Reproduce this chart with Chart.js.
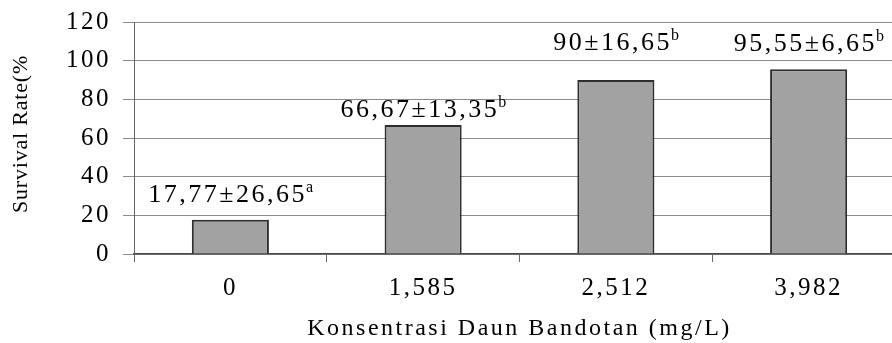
<!DOCTYPE html>
<html>
<head>
<meta charset="utf-8">
<script src="https://cdn.jsdelivr.net/npm/chart.js@4.4.1/dist/chart.umd.min.js"></script>
<style>
  html, body { margin: 0; padding: 0; background: #fff; overflow: hidden; }
  #wrap { width: 906px; height: 343px; }
</style>
</head>
<body>
<div id="wrap"><canvas id="c" width="906" height="343"></canvas></div>
<script>
// Concentrations of bandotan leaf extract (mg/L)
const categories = ['0', '1,585', '2,512', '3,982'];
// Mean survival rate (%) per concentration
const survival = [17.77, 66.67, 90, 95.55];
// Standard deviations and significance letters shown above each bar
const stdDev = ['26,65', '13,35', '16,65', '6,65'];
const meanText = ['17,77', '66,67', '90', '95,55'];
const letters = ['a', 'b', 'b', 'b'];
const yTicks = [0, 20, 40, 60, 80, 100, 120];

const SERIF = '"Liberation Serif", "Times New Roman", serif';
const SPACING = '2.5px';
const INK = '#000';

// Wide letter spacing used by all chart text
const spacingPlugin = {
  id: 'spacing',
  beforeUpdate(chart) { chart.ctx.letterSpacing = SPACING; },
  beforeDraw(chart) { chart.ctx.letterSpacing = SPACING; }
};

// "mean±sd" with a superscript letter above each bar
const labelOffsets = [18, 8, 30, 18];
const barLabels = {
  id: 'barLabels',
  afterDatasetsDraw(chart) {
    const ctx = chart.ctx;
    const meta = chart.getDatasetMeta(0);
    ctx.save();
    ctx.letterSpacing = SPACING;
    ctx.fillStyle = INK;
    ctx.textBaseline = 'alphabetic';
    ctx.textAlign = 'left';
    meta.data.forEach((bar, i) => {
      const main = meanText[i] + '±' + stdDev[i];
      ctx.font = '26px ' + SERIF;
      const w1 = ctx.measureText(main).width;
      ctx.font = '16px ' + SERIF;
      const w2 = ctx.measureText(letters[i]).width;
      const x0 = bar.x - (w1 + w2) / 2 + 2;
      const base = bar.y - labelOffsets[i];
      ctx.font = '26px ' + SERIF;
      ctx.fillText(main, x0, base);
      ctx.font = '16px ' + SERIF;
      ctx.fillText(letters[i], x0 + w1 - 1, base - 10);
    });
    ctx.restore();
  }
};

// Rotated y-axis title
const yTitle = {
  id: 'yTitle',
  afterDraw(chart) {
    const ctx = chart.ctx;
    ctx.save();
    ctx.letterSpacing = '0.8px';
    ctx.translate(21, 134);
    ctx.rotate(-Math.PI / 2);
    ctx.font = '22px ' + SERIF;
    ctx.fillStyle = INK;
    ctx.textAlign = 'center';
    ctx.textBaseline = 'middle';
    ctx.fillText('Survival Rate(%', 0, 0);
    ctx.restore();
  }
};

new Chart(document.getElementById('c'), {
  type: 'bar',
  data: {
    labels: categories,
    datasets: [{
      data: survival,
      backgroundColor: '#a2a2a2',
      borderColor: '#2e2e2e',
      borderWidth: 2,
      borderSkipped: 'bottom',
      barPercentage: 0.4,
      categoryPercentage: 1
    }]
  },
  options: {
    responsive: false,
    animation: false,
    devicePixelRatio: 1,
    layout: { padding: { top: 22, right: 1, left: 0, bottom: 0 } },
    plugins: { legend: { display: false }, tooltip: { enabled: false } },
    scales: {
      x: {
        offset: true,
        grid: {
          display: true,
          offset: true,
          drawOnChartArea: false,
          drawTicks: true,
          tickLength: 8,
          color: '#666'
        },
        border: { display: true, color: '#4a4a4a', width: 1.5 },
        ticks: {
          color: INK,
          font: { family: SERIF, size: 25 },
          padding: 11,
          maxRotation: 0,
          autoSkip: false
        },
        title: {
          display: true,
          text: 'Konsentrasi Daun Bandotan (mg/L)',
          color: INK,
          font: { family: SERIF, size: 24 },
          padding: { top: 0, bottom: 0 }
        },
        afterFit(scale) {
          scale.height = 89;
          scale.paddingLeft = 0;
          scale.paddingRight = 0;
        }
      },
      y: {
        min: 0,
        max: 120,
        afterBuildTicks(scale) { scale.ticks = yTicks.map(v => ({ value: v })); },
        grid: {
          color: '#8a8a8a',
          lineWidth: 1,
          drawTicks: true,
          tickLength: 11
        },
        border: { display: true, color: '#666', width: 1 },
        ticks: {
          color: INK,
          font: { family: SERIF, size: 25 },
          padding: 12
        },
        afterFit(scale) {
          scale.width = 134;
          scale.paddingTop = 0;
          scale.paddingBottom = 0;
        }
      }
    }
  },
  plugins: [spacingPlugin, barLabels, yTitle]
});
</script>
</body>
</html>
